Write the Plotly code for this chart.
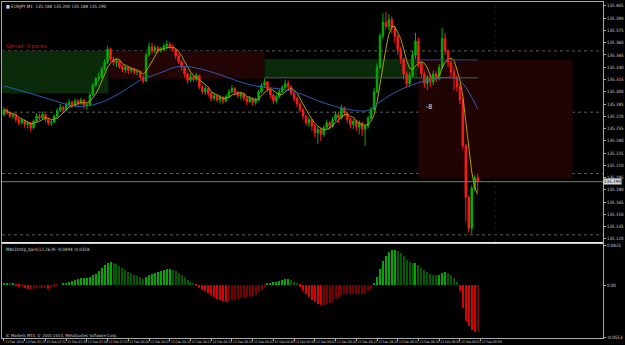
import numpy as np
import pandas as pd
import plotly.graph_objects as go

# ---------------- data (prices in points above 135.000) ----------------
BASE = 135.0
first_open_pts = 272
close_pts = [278, 274, 270, 272, 266, 262, 265, 260, 262, 256, 264, 270, 268, 272, 266, 262, 263, 270, 277, 281,
             278, 284, 287, 283, 289, 286, 290, 283, 284, 296, 308, 316, 318, 328, 336, 352, 340, 336, 338, 331,
             327, 330, 326, 328, 324, 325, 318, 313, 345, 355, 350, 354, 350, 352, 356, 358, 355, 352, 344, 337,
             330, 322, 314, 318, 315, 320, 306, 300, 304, 298, 292, 295, 290, 293, 289, 294, 300, 304, 299, 295,
             298, 292, 288, 292, 287, 290, 300, 308, 312, 303, 296, 289, 294, 300, 305, 310, 306, 298, 292, 285,
             278, 270, 262, 266, 258, 250, 254, 248, 256, 262, 258, 266, 272, 268, 280, 274, 266, 260, 264, 257,
             262, 254, 258, 268, 278, 300, 330, 368, 385, 380, 388, 378, 368, 352, 340, 322, 310, 320, 345, 362,
             335, 322, 310, 318, 312, 322, 316, 330, 365, 350, 336, 324, 318, 306, 290, 234, 171, 133, 182, 195,
             190]
high_pts = [281, 280, 276, 274, 273, 268, 267, 266, 264, 263, 266, 274, 273, 276, 273, 268, 266, 272, 280, 285,
            283, 287, 291, 289, 292, 291, 293, 291, 287, 299, 311, 318, 323, 331, 340, 356, 354, 343, 341, 339,
            333, 332, 331, 330, 329, 327, 326, 320, 348, 360, 360, 357, 356, 355, 359, 363, 361, 358, 353, 346,
            338, 331, 323, 322, 320, 323, 320, 308, 307, 306, 300, 298, 297, 296, 295, 297, 303, 308, 306, 301,
            300, 299, 294, 295, 293, 293, 302, 311, 316, 313, 304, 298, 297, 303, 308, 315, 314, 308, 300, 294,
            288, 280, 272, 269, 267, 260, 257, 256, 259, 265, 264, 269, 276, 274, 284, 282, 276, 268, 267, 266,
            265, 263, 260, 270, 281, 305, 335, 372, 396, 398, 395, 392, 380, 370, 355, 342, 325, 324, 350, 372,
            366, 338, 325, 321, 322, 326, 325, 334, 378, 372, 352, 338, 330, 320, 310, 292, 236, 173, 186, 198,
            200]
low_pts = [270, 272, 268, 267, 263, 259, 260, 256, 255, 252, 254, 263, 265, 266, 263, 259, 258, 262, 268, 275,
           274, 276, 282, 280, 282, 281, 284, 279, 278, 283, 295, 306, 313, 316, 326, 334, 337, 332, 330, 328,
           324, 323, 322, 323, 321, 320, 315, 310, 312, 343, 347, 347, 347, 348, 350, 352, 352, 349, 340, 334,
           326, 318, 310, 312, 312, 313, 303, 297, 296, 294, 288, 289, 287, 286, 285, 287, 292, 298, 296, 292,
           291, 289, 284, 286, 283, 284, 288, 298, 305, 300, 292, 285, 286, 292, 298, 303, 302, 295, 288, 281,
           275, 266, 258, 257, 252, 244, 236, 240, 245, 254, 253, 256, 264, 262, 266, 270, 262, 255, 254, 252,
           248, 246, 234, 255, 266, 276, 298, 328, 365, 376, 375, 372, 360, 345, 334, 315, 305, 306, 318, 340,
           330, 318, 305, 302, 306, 308, 312, 314, 328, 345, 330, 318, 302, 300, 285, 230, 141, 128, 126, 179,
           177]
macd_milli = [2, 2, 1, 1,
              -1, -2, -2, -3, -4, -4, -4, -3, -3,
              -3, -3, -4, -3, -2,
              -1, 0, 1, 2, 3,
              4, 5, 6, 7, 7, 7, 8, 10, 12, 15,
              18, 21, 23, 24,
              23, 22, 20, 18, 16, 14, 13, 11, 9, 8, 6,
              8, 10, 12, 13, 14, 15, 16, 17, 17, 16, 15,
              13, 11, 8, 5, 3, 1, -1,
              -3, -5, -7, -9, -11, -13, -15, -16, -17, -18, -17, -16, -16, -15, -14, -14, -13, -13, -12, -11,
              -8, -5, -2, 1, 2, 3, 3, 4, 5, 6, 6, 5,
              3, 1, -2, -6, -10, -13, -16, -18, -20, -21, -21, -20, -19, -17, -15,
              -13, -11, -10, -10, -10, -10, -10, -10, -10, -9, -7, -4,
              1, 8, 17, 25, 31, 35, 37, 37, 36, 34, 31,
              27, 24, 23, 23, 21, 18, 16, 14, 12, 11, 10, 10,
              13, 14, 13, 10, 7, 3, -6,
              -25, -38, -44, -48, -50, -50]
blue_ma_bars = [0, 9, 17, 25, 32, 39, 46, 52, 59, 65, 72, 79, 85, 92, 99, 106, 112, 119, 123, 126,
                132, 140, 148, 152, 155, 160]
blue_ma_pts = [307, 298, 289, 282, 286, 298, 314, 322, 331, 329, 322, 313, 307, 304, 299, 289, 282, 277, 277, 285,
               299, 311, 317, 317, 310, 279]
time_tick_bars = [0, 7, 14, 21, 28, 35, 42, 49, 56, 63, 70, 77, 84, 91, 98, 105, 112, 119, 126, 133, 140, 147,
                  154, 161]
time_tick_labels = ["13 Feb 2014", "13 Feb 07:25", "13 Feb 07:32", "13 Feb 07:39", "13 Feb 07:46", "13 Feb 07:53",
                    "13 Feb 08:00", "13 Feb 08:07", "13 Feb 08:14", "13 Feb 08:21", "13 Feb 08:28", "13 Feb 08:35",
                    "13 Feb 08:42", "13 Feb 08:49", "13 Feb 08:56", "13 Feb 09:03", "13 Feb 09:10", "13 Feb 09:17",
                    "13 Feb 09:24", "13 Feb 09:31", "13 Feb 09:38", "13 Feb 09:45", "13 Feb 09:52", "13 Feb 09:59"]
price_tick_labels = ["135.405", "135.390", "135.375", "135.360", "135.345", "135.330", "135.315", "135.300",
                     "135.285", "135.270", "135.255", "135.240", "135.225", "135.210", "135.195", "135.180",
                     "135.165", "135.150", "135.135", "135.120"]
macd_tick_vals = [0.0425, 0.0, -0.0553]
macd_tick_labels = ["0.0425", "0.00", "-0.0553"]
level_prices = [135.350, 135.275, 135.200, 135.125]
current_price = 135.190
# zones: (bar_from, bar_to, price_low, price_high, colour)
zones = [(-0.67, 35.3, 135.298, 135.350, "#0a2a0a"),
         (35.3, 88.0, 135.316, 135.350, "#230505"),
         (88.0, 140.0, 135.317, 135.340, "#0a2a0a"),
         (140.0, 192.0, 135.194, 135.339, "#200303")]

# ---------------- derived series ----------------
n = len(close_pts)
bars = np.arange(n)
close = BASE + np.array(close_pts) / 1000.0
open_ = BASE + np.array([first_open_pts] + close_pts[:-1]) / 1000.0
high = BASE + np.array(high_pts) / 1000.0
low = BASE + np.array(low_pts) / 1000.0
high = np.maximum(high, np.maximum(open_, close))
low = np.minimum(low, np.minimum(open_, close))
ma_fast = pd.Series(close).rolling(5, min_periods=1).mean()
macd = np.array(macd_milli) / 1000.0
cols = []
for i, v in enumerate(macd):
    prev = macd[i - 1] if i > 0 else v
    if v >= 0:
        cols.append("#00a800" if v >= prev else "#005a00")
    else:
        cols.append("#d80000" if v < prev else "#780000")

# ---------------- layout geometry ----------------
W, H = 625, 345
ML, MR, MT, MB = 2, 14, 1, 7
plot_h = H - MT - MB
def py(ypix):
    return (H - MB - ypix) / plot_h

XR = [-0.667, -0.667 + (W - ML - MR) / 3.0]
main_dom = [py(242), 1.0]
ind_dom = [0.0, py(244)]
YR = [135.411 - 0.0012195 * 242, 135.411 - 0.0012195 * 1]
Y2R = [-53 * 0.0010625, 41 * 0.0010625]

FONT = "Liberation Sans Narrow, DejaVu Sans Condensed, Arial, sans-serif"
AX = "#a8a8a8"

fig = go.Figure()
fig.add_trace(go.Candlestick(
    x=bars, open=open_, high=high, low=low, close=close,
    increasing=dict(line=dict(color="#00b000", width=1), fillcolor="#00b000"),
    decreasing=dict(line=dict(color="#ff1a1a", width=1), fillcolor="#ff1a1a"),
    whiskerwidth=0, xaxis="x", yaxis="y", showlegend=False, hoverinfo="skip"))
fig.add_trace(go.Scatter(x=bars, y=ma_fast, mode="lines", line=dict(color="#a8a200", width=1),
                         xaxis="x", yaxis="y", showlegend=False, hoverinfo="skip"))
fig.add_trace(go.Scatter(x=blue_ma_bars, y=BASE + np.array(blue_ma_pts) / 1000.0, mode="lines",
                         line=dict(color="#2a5db0", width=1, shape="spline"),
                         xaxis="x", yaxis="y", showlegend=False, hoverinfo="skip"))
fig.add_trace(go.Bar(x=bars, y=macd, marker=dict(color=cols, line=dict(width=0)), width=0.34,
                     xaxis="x2", yaxis="y2", showlegend=False, hoverinfo="skip"))

shapes = []
for x0, x1, y0, y1, c in zones:
    shapes.append(dict(type="rect", xref="x", yref="y", x0=x0, x1=x1, y0=y0, y1=y1,
                       fillcolor=c, line=dict(width=0), layer="below"))
for lp in level_prices:
    shapes.append(dict(type="line", xref="paper", yref="y", x0=0, x1=1, y0=lp, y1=lp,
                       line=dict(color="#5e5e5e", width=1, dash="dot"), layer="below"))
shapes.append(dict(type="line", xref="x", yref="y", x0=140, x1=160, y0=135.339, y1=135.339,
                   line=dict(color="#2a4a8a", width=1)))
shapes.append(dict(type="line", xref="x", yref="y", x0=88, x1=160, y0=135.317, y1=135.317,
                   line=dict(color="#5a5a5a", width=1)))
shapes.append(dict(type="line", xref="x", yref="paper", x0=166, x1=166, y0=main_dom[0], y1=1,
                   line=dict(color="#4a0000", width=1, dash="dot"), layer="below"))
shapes.append(dict(type="line", xref="paper", yref="y", x0=0, x1=1, y0=current_price, y1=current_price,
                   line=dict(color="#6f7f8f", width=1)))
shapes.append(dict(type="line", xref="paper", yref="paper", x0=0, x1=1, y0=py(242.5), y1=py(242.5),
                   line=dict(color="#e8e8e8", width=1.5)))

annotations = [
    dict(text="■ EURJPY,M1  135.188 135.200 135.188 135.190", xref="paper", yref="paper", x=0.003, y=1.0,
         xanchor="left", yanchor="top", showarrow=False, font=dict(family=FONT, size=4.5, color="#d0d0d0")),
    dict(text="Spread: 9 points", xref="paper", yref="paper", x=0.004, y=py(46), xanchor="left",
         yanchor="middle", showarrow=False, font=dict(family=FONT, size=5.5, color="#d81010")),
    dict(text="-8", xref="x", yref="y", x=143.7, y=135.281, showarrow=False,
         font=dict(family=FONT, size=7, color="#e8e8e8")),
    dict(text="MACDmtp_bars(12,26,9) -0.0494 -0.0358", xref="paper", yref="paper", x=0.003, y=py(245),
         xanchor="left", yanchor="top", showarrow=False, font=dict(family=FONT, size=4.5, color="#d0d0d0")),
    dict(text="IC Markets MT4, © 2001-2014, MetaQuotes Software Corp.", xref="paper", yref="paper",
         x=0.003, y=py(335), xanchor="left", yanchor="middle", showarrow=False,
         font=dict(family=FONT, size=4.2, color="#d0d0d0")),
    dict(text=f"{current_price:.3f}", xref="paper", yref="y", x=1.0, y=current_price, xanchor="left",
         yanchor="middle", showarrow=False, bgcolor="#d8d8d8", borderpad=0,
         font=dict(family=FONT, size=4.5, color="#000000")),
]

fig.update_layout(
    width=W, height=H, margin=dict(l=ML, r=MR, t=MT, b=MB),
    paper_bgcolor="#000000", plot_bgcolor="#000000",
    shapes=shapes, annotations=annotations, bargap=0, showlegend=False,
    xaxis=dict(domain=[0, 1], anchor="y", range=XR, showticklabels=False, showgrid=False, zeroline=False,
               showline=True, linecolor=AX, mirror=True, rangeslider=dict(visible=False), fixedrange=True),
    xaxis2=dict(domain=[0, 1], anchor="y2", matches="x", range=XR, showgrid=False, zeroline=False,
                showline=True, linecolor=AX, mirror=True, tickmode="array", tickvals=time_tick_bars,
                ticktext=time_tick_labels, ticks="outside", ticklen=2, tickcolor=AX,
                ticklabelposition="outside right", tickfont=dict(family=FONT, size=3.4, color="#d0d0d0"),
                tickangle=0),
    yaxis=dict(domain=main_dom, anchor="x", range=YR, side="right", showgrid=False, zeroline=False,
               showline=True, linecolor=AX, mirror=True, tickmode="array",
               tickvals=[float(t) for t in price_tick_labels], ticktext=price_tick_labels,
               ticks="outside", ticklen=2, tickcolor=AX, tickfont=dict(family=FONT, size=4.5, color="#d0d0d0")),
    yaxis2=dict(domain=ind_dom, anchor="x2", range=Y2R, side="right", showgrid=False, zeroline=False,
                showline=True, linecolor=AX, mirror=True, tickmode="array", tickvals=macd_tick_vals,
                ticktext=macd_tick_labels, ticks="outside", ticklen=2, tickcolor=AX,
                tickfont=dict(family=FONT, size=4.5, color="#d0d0d0")),
)

fig.write_html("out.html")
